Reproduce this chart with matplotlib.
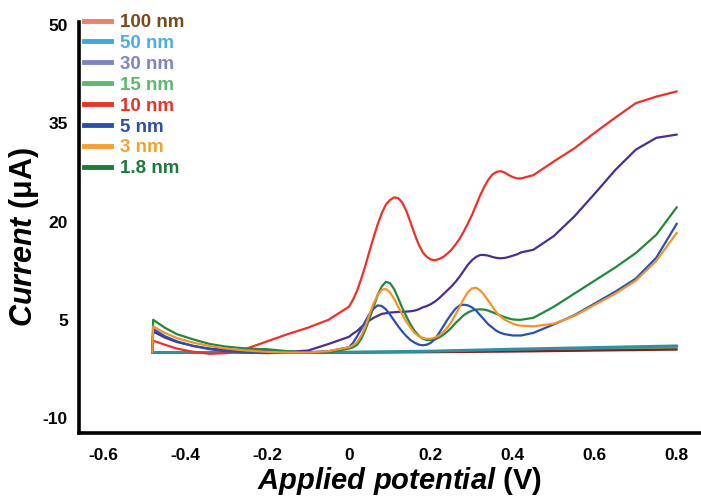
import matplotlib
matplotlib.use("Agg")
import matplotlib.pyplot as plt
from matplotlib.lines import Line2D

plt.rcParams['font.family'] = ['Liberation Sans', 'DejaVu Sans']
plt.rcParams['font.weight'] = 'bold'
plt.rcParams['mathtext.fontset'] = 'custom'
plt.rcParams['mathtext.rm'] = 'Liberation Sans:bold'
plt.rcParams['mathtext.it'] = 'Liberation Sans:italic:bold'
plt.rcParams['mathtext.bf'] = 'Liberation Sans:bold'

# ---- data ----
potential = [-0.48, -0.478, -0.45, -0.42, -0.38, -0.34, -0.30, -0.25, -0.20, -0.15, -0.10, -0.05,
             0.00, 0.01, 0.02, 0.03, 0.04, 0.05, 0.06, 0.07, 0.08, 0.09, 0.10,
             0.11, 0.12, 0.13, 0.14, 0.15, 0.16, 0.17, 0.18, 0.19, 0.20,
             0.21, 0.22, 0.23, 0.24, 0.25, 0.26, 0.27, 0.28, 0.29, 0.30,
             0.31, 0.32, 0.33, 0.34, 0.35, 0.36, 0.37, 0.38, 0.39, 0.40,
             0.41, 0.42, 0.45, 0.50, 0.55, 0.60, 0.65, 0.70, 0.75, 0.80]

i_10nm = [0.0, 1.8, 1.2, 0.6, 0.1, -0.2, -0.1, 0.6, 1.7, 2.8, 3.8, 5.0,
          7.0, 8.1, 9.5, 11.3, 13.3, 15.5, 17.6, 19.6, 21.3, 22.6, 23.3,
          23.7, 23.6, 22.9, 21.6, 19.9, 18.1, 16.5, 15.3, 14.6, 14.2,
          14.1, 14.3, 14.6, 15.1, 15.7, 16.5, 17.4, 18.5, 19.7, 21.0,
          22.5, 24.0, 25.3, 26.4, 27.2, 27.6, 27.7, 27.5, 27.1, 26.8,
          26.6, 26.6, 27.1, 29.2, 31.2, 33.6, 35.9, 38.1, 39.1, 39.9]
i_30nm = [0.0, 3.2, 2.3, 1.6, 1.0, 0.6, 0.4, 0.3, 0.2, 0.1, 0.3, 1.3,
          2.4, 2.9, 3.3, 3.9, 4.4, 4.9, 5.3, 5.6, 5.9, 6.0, 6.1,
          6.15, 6.2, 6.2, 6.25, 6.3, 6.4, 6.6, 6.9, 7.1, 7.4,
          7.8, 8.3, 8.9, 9.5, 10.1, 10.8, 11.6, 12.5, 13.4, 14.1,
          14.6, 14.9, 14.9, 14.8, 14.6, 14.45, 14.4, 14.45, 14.6, 14.8,
          15.0, 15.3, 15.7, 17.8, 20.8, 24.3, 27.9, 31.0, 32.8, 33.3]
i_1p8nm = [0.0, 5.0, 3.8, 2.8, 2.0, 1.3, 0.9, 0.6, 0.5, 0.2, 0.0, 0.0,
           0.6, 0.8, 1.2, 2.1, 3.5, 5.2, 7.0, 8.8, 10.1, 10.8, 10.6,
           9.7, 8.3, 6.8, 5.5, 4.3, 3.3, 2.6, 2.1, 1.9, 1.9,
           2.0, 2.3, 2.7, 3.2, 3.8, 4.5, 5.1, 5.7, 6.1, 6.4,
           6.55, 6.6, 6.55, 6.4, 6.15, 5.9, 5.65, 5.4, 5.2, 5.05,
           5.0, 5.0, 5.3, 7.0, 9.0, 11.0, 13.0, 15.2, 18.0, 22.2]
i_5nm = [0.0, 3.6, 2.5, 1.7, 1.0, 0.5, 0.2, 0.0, -0.1, 0.0, 0.0, 0.2,
         0.8, 1.5, 2.5, 3.6, 4.8, 5.9, 6.7, 7.2, 7.1, 6.6, 5.8,
         4.9, 4.0, 3.2, 2.5, 1.9, 1.5, 1.2, 1.1, 1.2, 1.5,
         2.1, 3.0, 4.0, 5.0, 5.9, 6.7, 7.2, 7.3, 7.2, 6.9,
         6.4, 5.7, 5.0, 4.3, 3.8, 3.3, 3.0, 2.8, 2.7, 2.6,
         2.6, 2.6, 3.0, 4.3, 5.7, 7.5, 9.3, 11.3, 14.5, 19.7]
i_3nm = [0.0, 4.0, 3.0, 2.2, 1.5, 1.0, 0.6, 0.3, 0.1, 0.0, 0.0, 0.2,
         0.8, 1.1, 1.6, 2.6, 4.0, 5.8, 7.5, 8.8, 9.6, 9.7, 9.2,
         8.2, 7.0, 5.8, 4.7, 3.8, 3.0, 2.5, 2.2, 2.1, 2.1,
         2.3, 2.6, 3.1, 3.8, 4.7, 5.8, 7.0, 8.2, 9.2, 9.8,
         9.9, 9.5, 8.8, 7.9, 7.0, 6.1, 5.5, 5.0, 4.7, 4.4,
         4.2, 4.1, 4.0, 4.4, 5.6, 7.3, 9.0, 11.0, 14.0, 18.3]

potential_flat = [-0.48, -0.2, 0.0, 0.2, 0.4, 0.6, 0.8]
i_15nm = [0.0, 0.0, 0.0, 0.1, 0.3, 0.5, 0.7]
i_50nm = [0.0, 0.0, 0.05, 0.2, 0.5, 0.75, 1.0]
i_100nm = [0.0, 0.0, 0.0, 0.05, 0.15, 0.3, 0.45]

legend_labels = ['100 nm', '50 nm', '30 nm', '15 nm', '10 nm', '5 nm', '3 nm', '1.8 nm']
x_ticks = [-0.6, -0.4, -0.2, 0, 0.2, 0.4, 0.6, 0.8]
x_ticklabels = ['-0.6', '-0.4', '-0.2', '0', '0.2', '0.4', '0.6', '0.8']
y_ticks = [50, 35, 20, 5, -10]
y_ticklabels = ['50', '35', '20', '5', '-10']

# ---- styles ----
legend_line_colors = ['#E8826A', '#3AAAD8', '#7B86C0', '#5DB870', '#E8322A', '#2A50A8', '#F5A030', '#1E7A3A']
legend_text_colors = ['#7A4A1A', '#4AAEE0', '#7B86C0', '#5DB870', '#E8322A', '#2A50A8', '#F5A030', '#1E7A3A']

fig = plt.figure(figsize=(7.01, 4.97), dpi=100)
ax = fig.add_axes([79 / 701, 1 - 433 / 497, 1 - 79 / 701, (433 - 22) / 497])

lw = 1.6
kw = dict(solid_joinstyle='round', solid_capstyle='round')
ax.plot(potential_flat, i_15nm, color='#5DB870', lw=lw, **kw)
ax.plot(potential_flat, i_100nm, color='#8B1A1A', lw=lw, **kw)
ax.plot(potential_flat, i_50nm, color='#2E8FA5', lw=lw + 0.6, **kw)
ax.plot(potential, i_10nm, color='#EE3028', lw=lw, **kw)
ax.plot(potential, i_30nm, color='#4B2E93', lw=lw, **kw)
ax.plot(potential, i_1p8nm, color='#1E8A3A', lw=lw, **kw)
ax.plot(potential, i_5nm, color='#2A50B0', lw=lw, **kw)
ax.plot(potential, i_3nm, color='#F5922A', lw=lw, **kw)

ax.set_xlim(-0.659, 0.859)
ax.set_ylim(-12.3, 50.5)
ax.set_xticks(x_ticks)
ax.set_xticklabels(x_ticklabels)
ax.set_yticks(y_ticks)
ax.set_yticklabels(y_ticklabels)
ax.tick_params(axis='both', length=0, labelsize=12.5)
ax.tick_params(axis='x', pad=11)
ax.tick_params(axis='y', pad=8)
for lab in ax.get_xticklabels() + ax.get_yticklabels():
    lab.set_fontweight('bold')

for s in ['top', 'right']:
    ax.spines[s].set_visible(False)
for s in ['left', 'bottom']:
    ax.spines[s].set_linewidth(2.6)
    ax.spines[s].set_capstyle('projecting')

ax.set_xlabel('$\\mathit{Applied\\ potential}$ (V)', fontsize=21, fontweight='bold')
ax.set_ylabel('$\\mathit{Current}$ (μA)', fontsize=22, fontweight='bold')
ax.xaxis.set_label_coords(399 / 701, 1 - 481 / 497, transform=fig.transFigure)
ax.xaxis.label.set_verticalalignment('center')
ax.yaxis.set_label_coords(24 / 701, 1 - 237 / 497, transform=fig.transFigure)
ax.yaxis.label.set_verticalalignment('center')

handles = [Line2D([], [], color=c, lw=3.5) for c in legend_line_colors]
leg = ax.legend(handles, legend_labels, loc='upper left', bbox_to_anchor=(84 / 701, 1 - 14 / 497),
                bbox_transform=fig.transFigure, frameon=False, borderpad=0, borderaxespad=0,
                handlelength=1.45, handletextpad=0.45, labelspacing=0.2,
                prop={'size': 13.5, 'weight': 'bold'})
for t, c in zip(leg.get_texts(), legend_text_colors):
    t.set_color(c)

fig.savefig('out.png', dpi=100)
